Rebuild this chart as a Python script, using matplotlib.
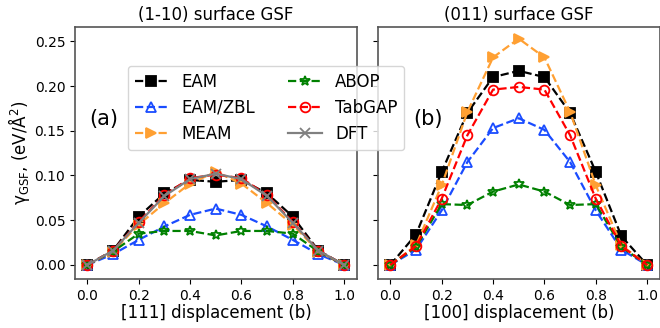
import matplotlib.pyplot as plt

# displacement (b)
disp = [0.0, 0.1, 0.2, 0.3, 0.4, 0.5, 0.6, 0.7, 0.8, 0.9, 1.0]

# (1-10) surface GSF, eV/A^2
eam_a = [0.0, 0.016, 0.054, 0.080, 0.095, 0.093, 0.095, 0.080, 0.054, 0.016, 0.0]
zbl_a = [0.0, 0.012, 0.028, 0.043, 0.056, 0.063, 0.056, 0.043, 0.028, 0.012, 0.0]
meam_a = [0.0, 0.015, 0.045, 0.069, 0.091, 0.104, 0.091, 0.069, 0.045, 0.015, 0.0]
abop_a = [0.0, 0.015, 0.035, 0.038, 0.038, 0.033, 0.038, 0.038, 0.035, 0.015, 0.0]
tabgap_a = [0.0, 0.016, 0.048, 0.078, 0.097, 0.101, 0.097, 0.078, 0.048, 0.016, 0.0]
dft_a = [0.0, 0.016, 0.047, 0.077, 0.096, 0.102, 0.096, 0.077, 0.047, 0.016, 0.0]

# (011) surface GSF
eam_b = [0.0, 0.034, 0.104, 0.170, 0.210, 0.217, 0.210, 0.170, 0.104, 0.032, 0.0]
zbl_b = [0.0, 0.017, 0.061, 0.115, 0.153, 0.164, 0.151, 0.115, 0.061, 0.017, 0.0]
meam_b = [0.0, 0.022, 0.089, 0.171, 0.232, 0.253, 0.232, 0.171, 0.089, 0.022, 0.0]
abop_b = [0.0, 0.020, 0.068, 0.067, 0.082, 0.090, 0.082, 0.067, 0.068, 0.020, 0.0]
tabgap_b = [0.0, 0.021, 0.074, 0.145, 0.196, 0.199, 0.196, 0.145, 0.074, 0.021, 0.0]

labels = ["EAM", "EAM/ZBL", "MEAM", "ABOP", "TabGAP", "DFT"]

styles = {
    "EAM": dict(color="black", marker="s", mfc="black", ls="--"),
    "EAM/ZBL": dict(color="#1a4cff", marker="^", mfc="none", ls="--"),
    "MEAM": dict(color="#ffa033", marker=">", mfc="#ffa033", ls="--"),
    "ABOP": dict(color="green", marker="*", mfc="none", ls="--"),
    "TabGAP": dict(color="red", marker="o", mfc="none", ls="--"),
    "DFT": dict(color="gray", marker="x", mfc="gray", ls="-"),
}

fig = plt.figure(figsize=(6.6, 3.28), dpi=100)
ax1 = fig.add_axes([0.1136, 0.1494, 0.4273, 0.7683])
ax2 = fig.add_axes([0.5727, 0.1494, 0.4273, 0.7683], sharey=ax1)

series_a = [eam_a, zbl_a, meam_a, abop_a, tabgap_a, dft_a]
series_b = [eam_b, zbl_b, meam_b, abop_b, tabgap_b]

handles = []
for lab, ys in zip(labels, series_a):
    h, = ax1.plot(disp, ys, label=lab, lw=1.6, ms=7, mew=1.3, **styles[lab])
    handles.append(h)
for lab, ys in zip(labels, series_b):
    ax2.plot(disp, ys, label=lab, lw=1.6, ms=7, mew=1.3, **styles[lab])

for ax in (ax1, ax2):
    ax.set_xlim(-0.048, 1.05)
    ax.set_xticks([0.0, 0.2, 0.4, 0.6, 0.8, 1.0])
    ax.tick_params(labelsize=10)
    for sp in ax.spines.values():
        sp.set_color("#555555")
        sp.set_linewidth(1.2)

ax1.set_ylim(-0.0157, 0.266)
ax1.set_yticks([0.0, 0.05, 0.10, 0.15, 0.20, 0.25])
ax2.tick_params(labelleft=False)

ax1.set_title("(1-10) surface GSF", fontsize=12, pad=5)
ax2.set_title("(011) surface GSF", fontsize=12, pad=5)
ax1.set_xlabel("[111] displacement (b)", fontsize=12, labelpad=1)
ax2.set_xlabel("[100] displacement (b)", fontsize=12, labelpad=1)
ax1.set_ylabel("γ$_{\\rm GSF}$, (eV/Å$^2$)", fontsize=12, labelpad=2)

ax1.text(0.05, 0.635, "(a)", transform=ax1.transAxes, fontsize=15, va="center")
ax2.text(0.125, 0.635, "(b)", transform=ax2.transAxes, fontsize=15, va="center")

fig.legend(handles=handles, loc="upper left", bbox_to_anchor=(128 / 660, 1 - 66 / 328),
           ncol=2, fontsize=12, borderaxespad=0)

fig.savefig("out.png", dpi=100)
